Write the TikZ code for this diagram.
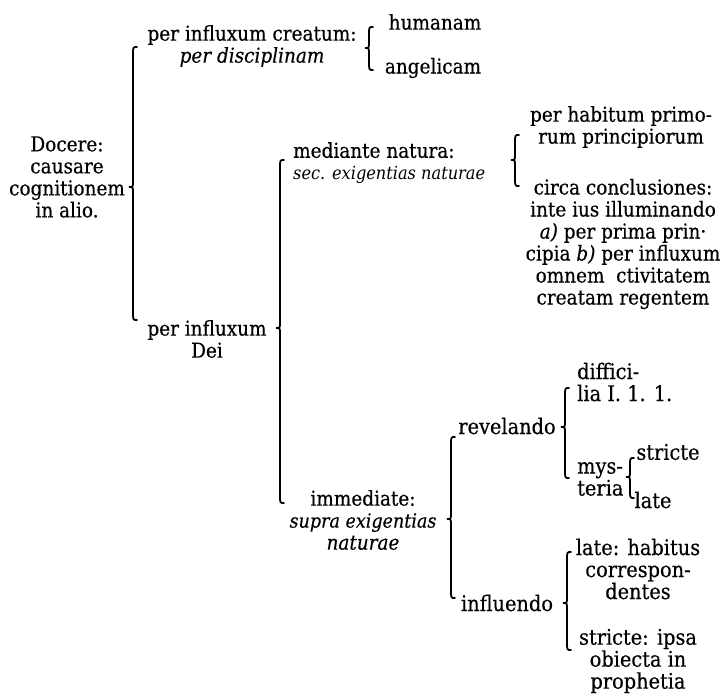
\documentclass[tikz,border=0pt]{standalone}
\usepackage{fontspec}
\setmainfont{DejaVu Serif Condensed}[FakeBold=0.35]
\newfontfamily\lightfont{DejaVu Serif Condensed}

% tall scholastic brace: x, top, cusp, bottom
\newcommand{\curly}[4]{%
  \draw[brc] (#1+4,#2) .. controls (#1,#2) .. (#1,#2+8) -- (#1,#3-6)
    .. controls (#1,#3) .. (#1-4,#3) .. controls (#1,#3) .. (#1,#3+6)
    -- (#1,#4-8) .. controls (#1,#4) .. (#1+4,#4);}

\begin{document}
\begin{tikzpicture}[x=1pt, y=-1pt,
    brc/.style={line width=1.8pt, line cap=round},
    lbl/.style={inner sep=0pt, align=center, font=\fontsize{20.5}{22}\selectfont},
    big/.style={lbl, font=\fontsize{21.5}{22}\selectfont},
    lbll/.style={lbl, align=left}]
\useasboundingbox (0,0) rectangle (722,698);

\node[lbl] (docere) at (67,177) {Docere:\\causare\\cognitionem\\in alio.};
\curly{133}{47}{187}{320}

\node[lbl] (creat) at (252,46) {per influxum creatum:\\\textit{per disciplinam}};
\curly{369}{27}{48}{70}
\node[lbl] (human) at (435,22) {humanam};
\node[lbl] (angel) at (433,68) {angelicam};

\node[lbl] (dei) at (207,339) {per influxum\\Dei};
\curly{280}{160}{328}{503}

\node[lbll, anchor=west] (med) at (293,163)
  {mediante natura:\\{\lightfont\fontsize{18}{22}\selectfont\itshape sec. exigentias naturae}};
\curly{515}{135}{160}{186}
\node[lbl] (habit) at (621,127) {per habitum primo-\\rum principiorum};
\node[lbl] (circa) at (623,244) {circa conclusiones:\\inte ius illuminando\\
  \textit{a)} per prima prin·\\cipia \textit{b)} per influxum\\omnem\ \ ctivitatem\\creatam regentem};

\node[lbl] (immed) at (363,520) {immediate:\\{\fontsize{19.5}{22}\selectfont\itshape supra exigentias}\\\textit{naturae}};
\curly{451}{437}{519}{598}

\node[big] (revel) at (507,426) {revelando};
\curly{565}{388}{427}{478}
\node[big, align=left, anchor=west] (diff) at (577,382) {diffici-\\lia I. 1. 1.};
\node[big, align=left, anchor=west] (myst) at (577,479) {mys-\\teria};
\curly{630}{458}{477}{498}
\node[big] (strict) at (668,452) {stricte};
\node[big] (late) at (653,500) {late};

\node[big] (influ) at (507,603) {influendo};
\curly{567}{552}{603}{650}
\node[big] (habitus) at (638,569) {late: habitus\\correspon-\\dentes};
\node[big] (ipsa) at (638,661) {stricte: ipsa\\obiecta in\\prophetia};
\end{tikzpicture}
\end{document}
